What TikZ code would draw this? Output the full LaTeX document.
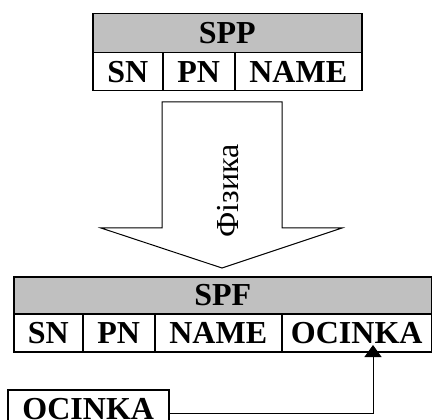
\documentclass[tikz,border=0pt]{standalone}
\usepackage{fontspec}
\setmainfont{Liberation Serif}
\usetikzlibrary{arrows.meta}
\definecolor{hdrgray}{RGB}{192,192,192}
\tikzset{
  tbl/.style={draw, line width=1.5pt, inner sep=0pt, anchor=north west,
    font=\fontsize{32}{38}\selectfont\bfseries},
  hdr/.style={tbl, fill=hdrgray},
  conn/.style={line width=1pt, -{Triangle[width=17pt,length=12pt]}}
}

\begin{document}
\begin{tikzpicture}[x=1pt,y=1pt]
  \useasboundingbox (0,0) rectangle (432,-420);

  % table SPP
  \node[hdr, minimum width=269pt, minimum height=39pt] (spp) at (92,-13) {SPP};
  \node[tbl, minimum width=70pt, minimum height=38pt] (spp1) at (92,-52) {SN};
  \node[tbl, minimum width=72pt, minimum height=38pt] (spp2) at (162,-52) {PN};
  \node[tbl, minimum width=127pt, minimum height=38pt] (spp3) at (234,-52) {NAME};

  % big arrow down
  \draw[line width=1pt] (162,-102) -- (282,-102) -- (282,-228) -- (342,-228)
    -- (222,-268) -- (101,-228) -- (162,-228) -- cycle;
  \node[rotate=90, font=\fontsize{32}{38}\selectfont] (fiz) at (228,-191) {Фізика};

  % table SPF
  \node[hdr, minimum width=418pt, minimum height=37pt] (spf) at (13,-276) {SPF};
  \node[tbl, minimum width=69pt, minimum height=38pt] (spf1) at (13,-313) {SN};
  \node[tbl, minimum width=72pt, minimum height=38pt] (spf2) at (82,-313) {PN};
  \node[tbl, minimum width=127pt, minimum height=38pt] (spf3) at (154,-313) {NAME};
  \node[tbl, minimum width=150pt, minimum height=38pt] (spf4) at (281,-313) {OCINKA};

  % new attribute
  \node[tbl, minimum width=161pt, minimum height=48pt, text depth=10pt] (ocinka) at (7,-389) {OCINKA};

  \coordinate (tip) at (373,-345);
  \draw[conn] (ocinka.east) -| (tip);

\end{tikzpicture}
\end{document}
